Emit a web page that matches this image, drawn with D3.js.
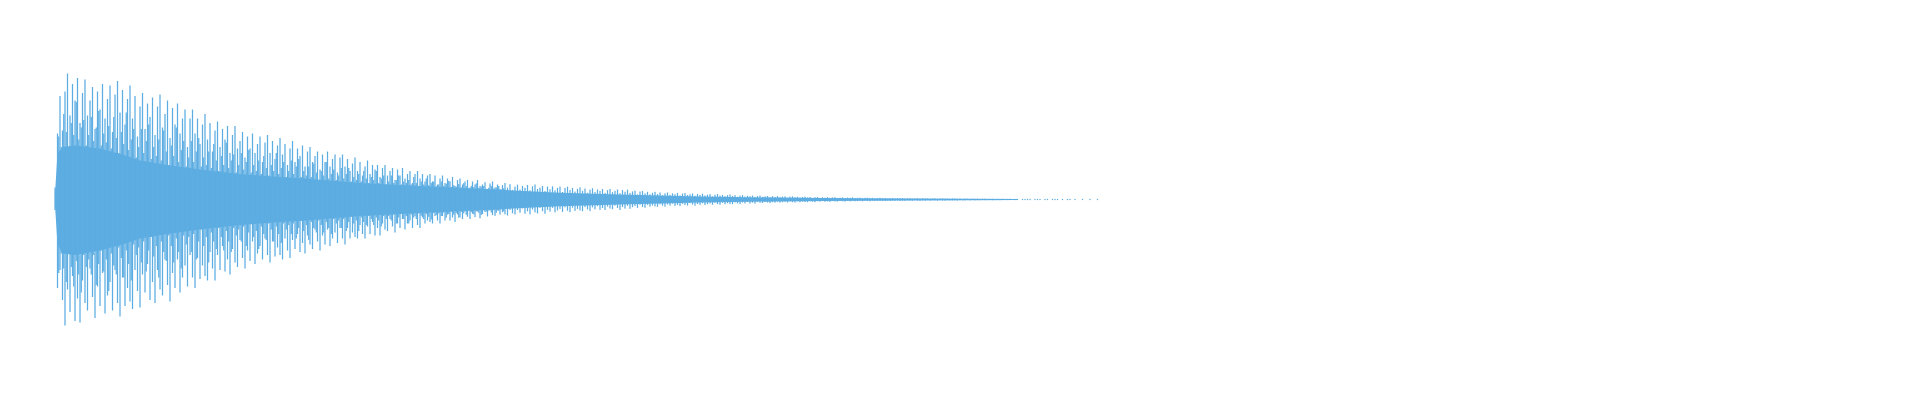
<!DOCTYPE html>
<html>
<head>
<meta charset="utf-8">
<script src="https://cdn.jsdelivr.net/npm/d3@7"></script>
<style>
  body { margin: 0; background: #fff; }
</style>
</head>
<body>
<script>
// peaks of the waveform, one bar every sample step (percent of full scale)
const peakTop = [
  8,44,69,46,72,84,56,77,66,81,
  51,71,80,56,66,75,47,72,60,77,
  54,67,76,45,70,79,58,73,50,67,
  76,54,69,42,62,71,47,64,55,68,
  43,62,70,48,57,66,41,61,50,64,
  44,54,60,35,54,60,44,54,37,50,
  57,40,51,32,46,52,35,47,40,49,
  31,43,49,34,39,45,28,42,34,44,
  31,37,42,25,38,43,31,39,27,36,
  41,30,37,23,34,39,25,34,29,36,
  22,32,35,25,29,32,20,30,25,32,
  22,27,30,18,28,30,22,27,19,24,
  28,19,25,16,22,26,17,23,20,23,
  15,21,23,16,19,21,13,20,16,21,
  14,17,19,11,17,19,14,17,12,16,
  17,12,16,10,14,16,11,14,12,15,
  9,13,14,10,12,13,8,12,10,13,
  9,10,11.5,7,10.7,12,8.1,10,7,9.6,
  11,7.9,10.2,6.4,8.6,9.9,6.6,9,7.8,9.7,
  6.2,8.8,10,7,7.9,9,5.7,8.6,6.8,8.8,
  6.1,7.7,8.6,5,7.7,8.6,6.3,7.7,5.3,7.1,
  8.1,5.8,7.3,4.5,6.6,7.5,5,6.7,5.7,7,
  4.4,6.2,7,4.9,5.8,6.7,4.2,6.3,5.2,6.6,
  4.4,5.4,5.9,3.4,5.3,5.7,4.1,5.1,3.4,4.5,
  5.1,3.6,4.7,2.8,4.1,4.7,3.1,4.1,3.5,4.4,
  2.7,3.9,4.3,3,3.5,4,2.5,3.7,3,3.9,
  2.7,3.2,3.6,2.1,3.2,3.6,2.6,3.1,2.2,2.9,
  3.3,2.3,2.9,1.8,2.6,2.9,1.9,2.5,2.2,2.6,
  1.7,2.3,2.6,1.8,2.1,2.3,1.4,2.2,1.7,2.3,
  1.5,1.9,2.1,1.2,1.9,2.1,1.5,1.8,1.3,1.7,
  1.9,1.4,1.7,1,1.5,1.7,1.1,1.5,1.2,1.6,
  1,1.4,1.5,1.1,1.2,1.4,0.8,1.3,1.1,1.4,
  0.9,1.1,1.2,0.7,1.1,1.2,0.9,1.1,0.7,1,
  1.1,0.8,1,0.6,0.9,1,0.7,0.9,0.8,1,
  0.6,0.8,0.9,0.6,0.8,0.9,0.5,0.8,0.7,0.8,
  0.6,0.7,0.8,0.5,0.7,0.8,0.6,0.7,0.5,0.7,
  0.7,0.5,0.6,0.4,0.6,0.6,0.4,0.6,0.5,0.6,
  0.4,0.5,0.6,0.4,0.5,0.5,0.4,0.5,0.4,0.5,
  0.4,0.4,0.5,0,0.4,0.4,0,0.4,0.4,0.4,
  0.4,0,0.4,0.4,0.4,0,0.4,0.4,0,0.4,
  0.4,0.4,0,0.4,0,0.4,0.4,0,0.4,0,
  0,0.4,0,0,0.4,0,0,0.4
];
const peakBottom = [
  7,59,47,67,84,60,75,51,81,66,
  82,54,69,74,46,65,79,58,71,49,
  76,64,55,74,47,69,78,52,71,59,
  68,73,47,61,72,50,62,43,67,55,
  69,47,60,64,40,57,68,49,59,40,
  62,52,44,58,37,52,59,39,53,44,
  51,54,35,46,54,37,47,31,48,40,
  50,33,42,45,27,39,46,34,41,28,
  43,36,31,40,26,37,42,28,38,32,
  37,40,26,34,39,27,33,23,35,29,
  36,24,30,33,20,28,34,24,30,20,
  31,26,22,29,19,26,30,19,26,22,
  25,26,17,23,26,18,23,15,24,19,
  24,16,20,21,13,18,22,16,19,13,
  20,16,14,19,11,17,19,12,16,14,
  15,16,11,14,16,11,14,10,14,12,
  15,10,12,13,8,11.5,13,9.5,11.7,8,
  12.5,9.7,8.4,11.3,7.2,10.4,10.9,7.3,10,8.5,
  9.9,10.7,7,9.2,10,7,8.8,6,9.5,7.9,
  9.9,6.7,8.6,9.3,5.5,7.8,9.5,6.9,8.1,5.6,
  8.6,7.3,6.3,8.3,5.2,7.5,8.4,5.5,7.6,6.3,
  7.3,7.8,5.1,6.6,7.7,5.3,6.6,4.4,6.9,5.7,
  7,4.7,6,6.5,4.1,5.7,7,5,6.1,4.2,
  6.2,5.1,4.3,5.6,3.5,5,5.5,3.6,4.8,4,
  4.6,4.9,3.2,4.1,4.8,3.3,4.1,2.8,4.3,3.6,
  4.4,2.9,3.7,4,2.4,3.4,4.1,3,3.6,2.5,
  3.7,3.1,2.7,3.5,2.2,3.1,3.5,2.2,3.1,2.5,
  3,3.1,2,2.6,3,2,2.6,1.7,2.7,2.1,
  2.7,1.7,2.2,2.3,1.5,2,2.4,1.8,2.1,1.4,
  2.1,1.8,1.5,2,1.3,1.8,2,1.3,1.8,1.5,
  1.7,1.8,1.2,1.5,1.8,1.2,1.5,1,1.5,1.3,
  1.6,1.1,1.3,1.4,0.9,1.2,1.4,1,1.3,0.9,
  1.2,1.1,0.9,1.2,0.7,1,1.2,0.8,1,0.8,
  1,0.9,1,0.8,1,0.7,0.9,0.6,1,0.8,
  0.9,0.6,0.8,0.8,0.5,0.7,0.9,0.6,0.8,0.5,
  0.8,0.6,0.6,0.8,0.5,0.7,0.8,0.5,0.7,0.6,
  0.6,0.7,0.4,0.6,0.6,0.4,0.6,0.4,0.6,0.5,
  0.5,0.4,0.5,0.5,0.4,0.5,0.5,0.4,0.5,0.4,
  0.4,0.4,0.4,0,0.4,0.4,0,0.4,0.4,0.4,
  0.4,0,0.4,0.4,0.4,0,0.4,0.4,0,0.4,
  0.4,0.4,0,0.4,0,0.4,0.4,0,0.4,0,
  0,0.4,0,0,0.4,0,0,0.4
];

// in-between (valley) samples of the loud opening part
const valleyTop = [
  4,42,35,57,45,35,51,43,65,40,
  48,53,36,43,55,39,48,59,36,44,
  38,49,34,55,41,31,45,37,58,33,
  40,47,28,35,47,31,39,50,27,35,
  29,40,26,46,32,23,36,29,48,25,
  33,39,22,28,39,25,32,41,22,28,
  23,32,21,37,26,19,29,23,38,21,
  26,30,18,23,31,20,25,33,18,23,
  19,26,17,29,21,16,23,19,31,17,
  21,25,15,19,26,17,22,27,15,19,
  16,22,15,24,18,13,19,16,25,14,
  17,20,13,16,21,14,17,21,12,15,
  13,17,12,19,14,11,15,13,19,11,
  14,16,10,12,16,11,13,16,10,12,
  11,13,10,15,11,9,12,10,14,9.5,
  11,12,8.7,10,12,9,10.5,12.4,8.4,9.5,
  8.6,10.3,8.1,10.9,8.9,7.5,9.1,8.2,10.7,7.7,
  8.6,9,7.1,7.8,9.1,7.3,8,9,6.7,7.5
];
const valleyBottom = [
  5,49,36,46,55,36,45,58,41,50,
  62,37,45,40,50,37,57,43,34,48,
  40,61,36,44,50,32,39,52,34,43,
  54,30,37,32,42,28,48,34,25,38,
  31,52,28,35,41,24,31,42,26,35,
  46,24,30,25,35,23,40,28,20,31,
  25,42,22,28,33,19,25,34,21,28,
  35,19,24,20,28,18,31,22,16.5,25,
  21,33,18,23,27,16,20,28,18,23,
  29,16,20,17,23,16,26,19,14.2,21,
  17,27,15,19,22,14,17,22,15,19,
  23,13,16,14,19,13,21,15,11.4,16,
  14,21,12,15,17,11,13,17,12,14,
  18,11,13,11,14,10,16,12,9.5,13,
  11,16,10,12,13,9.3,10.8,13,9.7,11.5,
  13.3,9,10.4,9.3,11,8.7,12.1,9.7,8.1,10.1,
  9,12.1,8.3,9.3,10.2,7.6,8.4,9.9,7.9,8.9,
  10.3,7.3,8.1,7.4,8.6,7.1,8.9,7.5,6.5,7.9
];

// solid body of the waveform (sample index -> percent)
const coreIndex  = [0,1,3,8,18,27,34,45,58,74,90,100,122,146,178,202,226,258,288,306,338,362,385];
const coreTop    = [4,31,35,36,34,30,26,23,20,17,15,14,11,9,6.5,4.5,3.3,2,1.3,1,0.7,0.5,0.4];
const coreBottom = [4,30,36,37,34,30,26,23,20,17,15,14,11,9,6.5,4.5,3.3,2,1.3,1,0.7,0.5,0.4];

const WIDTH = 1920, HEIGHT = 400;
const color = "#5dade2";
const barW = 1.25;

const svg = d3.select("body").append("svg")
  .attr("width", WIDTH)
  .attr("height", HEIGHT);

const x = d3.scaleLinear().domain([0, 418]).range([55, 1100]);
const y = d3.scaleLinear().domain([-100, 100]).range([349.5, 49.5]);

const core = coreIndex.map((d, i) => ({ i: d, top: coreTop[i], bottom: coreBottom[i] }));

svg.append("path")
  .datum(core)
  .attr("fill", color)
  .attr("d", d3.area()
    .x(d => x(d.i))
    .y0(d => y(-d.bottom))
    .y1(d => y(d.top)));

const valleys = valleyTop.map((t, i) => ({ i: i + 0.5, top: t, bottom: valleyBottom[i] }));

svg.selectAll("rect.valley")
  .data(valleys)
  .enter()
  .append("rect")
  .attr("class", "valley")
  .attr("x", d => x(d.i) - barW / 2)
  .attr("width", barW)
  .attr("y", d => y(d.top))
  .attr("height", d => y(-d.bottom) - y(d.top))
  .attr("fill", color);

const peaks = peakTop.map((t, i) => ({ i: i, top: t, bottom: peakBottom[i] }))
  .filter(d => d.top > 0 || d.bottom > 0);

svg.selectAll("rect.peak")
  .data(peaks)
  .enter()
  .append("rect")
  .attr("class", "peak")
  .attr("x", d => x(d.i) - barW / 2)
  .attr("width", barW)
  .attr("y", d => y(d.top))
  .attr("height", d => Math.max(1.2, y(-d.bottom) - y(d.top)))
  .attr("fill", color);
</script>
</body>
</html>
